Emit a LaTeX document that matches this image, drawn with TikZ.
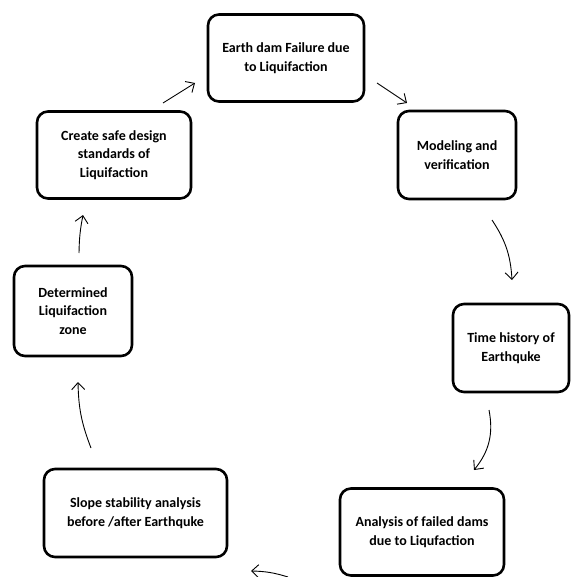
\documentclass[tikz,border=0pt]{standalone}
\usepackage{fontspec}
\setmainfont{Carlito}
\usetikzlibrary{arrows.meta}

\tikzset{
  stagebox/.style={draw, line width=2.6pt, rounded corners=11pt, align=center,
    inner sep=0pt, font=\fontsize{14}{18.5}\selectfont\bfseries},
  cyclearrow/.style={-{Straight Barb[length=7pt,width=13pt]}, line width=0.9pt},
}

\begin{document}
\begin{tikzpicture}[x=1pt,y=-1pt]
\useasboundingbox (0,0) rectangle (571,577);

% Stages of the cycle
\node[stagebox, minimum width=156pt, minimum height=87pt] (earth) at (286,58) {Earth dam Failure due\\to Liquifaction};
\node[stagebox, minimum width=118pt, minimum height=88pt] (model) at (457,155) {Modeling and\\verification};
\node[stagebox, minimum width=116pt, minimum height=88pt] (timehist) at (511,348) {Time history of\\Earthquke};
\node[stagebox, minimum width=164pt, minimum height=87pt] (failed) at (422,532) {Analysis of failed dams\\due to Liqufaction};
\node[stagebox, minimum width=183pt, minimum height=88pt] (slope) at (135.5,513) {Slope stability analysis\\before /after Earthquke};
\node[stagebox, minimum width=118pt, minimum height=90pt] (zone) at (73,311) {Determined\\Liquifaction\\zone};
\node[stagebox, minimum width=154pt, minimum height=87pt] (design) at (114,155) {Create safe design\\standards of\\Liquifaction};

% Arrow ends
\coordinate (a1s) at (377,83);  \coordinate (a1e) at (407,103);
\coordinate (a2s) at (492,220); \coordinate (a2e) at (512,280);
\coordinate (a3s) at (489,410); \coordinate (a3e) at (474,470);
\coordinate (a4s) at (288,577); \coordinate (a4e) at (251,571);
\coordinate (a5s) at (91,448);  \coordinate (a5e) at (78,382);
\coordinate (a6s) at (79,253);  \coordinate (a6e) at (83,215);
\coordinate (a7s) at (163,103); \coordinate (a7e) at (195,83);

% Connectors
\draw[cyclearrow] (a1s) -- (a1e);
\draw[cyclearrow] (a2s) to[bend left=15] (a2e);
\draw[cyclearrow] (a3s) to[bend left=25] (a3e);
\draw[cyclearrow] (a4s) to[bend right=8] (a4e);
\draw[cyclearrow] (a5s) to[bend left=10] (a5e);
\draw[cyclearrow] (a6s) to[bend left=5] (a6e);
\draw[cyclearrow] (a7s) -- (a7e);

\end{tikzpicture}
\end{document}
